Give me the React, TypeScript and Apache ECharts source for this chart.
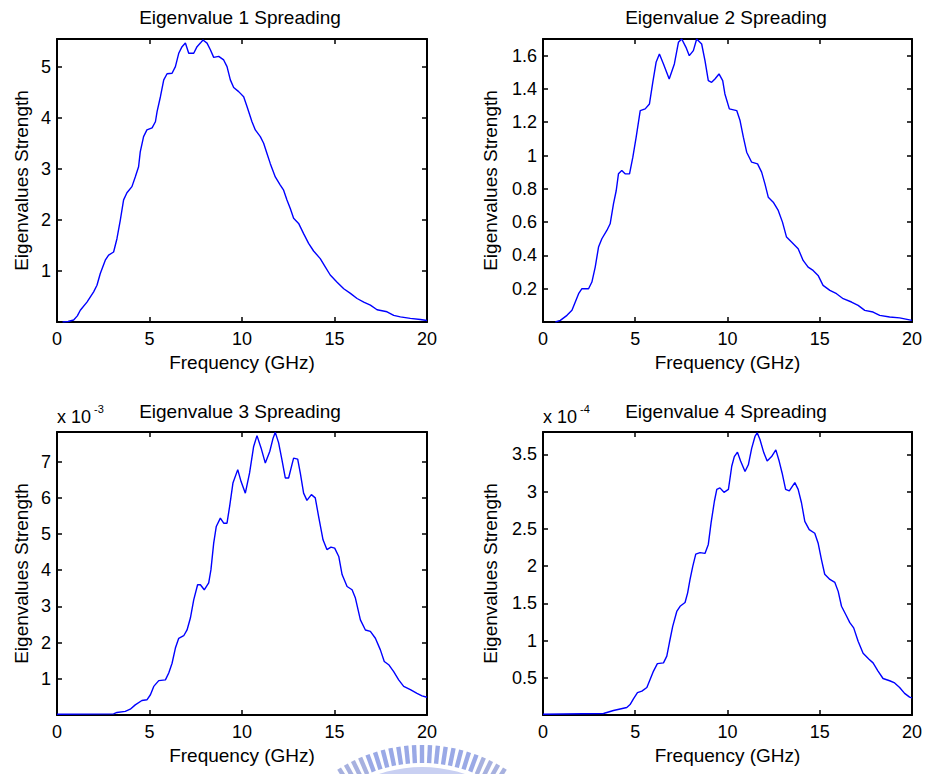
import React, { useEffect, useRef } from "react";
import * as echarts from "echarts";

// ---- Data (frequency in GHz, eigenvalue strength) ----
const freq1 = [0.3, 0.6, 0.9, 1.1, 1.26, 1.62, 1.98, 2.16, 2.34, 2.61, 2.79, 3.06, 3.24, 3.42, 3.6, 3.78, 4.05, 4.23, 4.41, 4.5, 4.68, 4.86, 5.14, 5.32, 5.41, 5.59, 5.77, 5.95, 6.22, 6.4, 6.58, 6.76, 6.94, 7.12, 7.39, 7.57, 7.75, 7.89, 8.11, 8.29, 8.47, 8.74, 9.01, 9.19, 9.37, 9.55, 9.82, 10.09, 10.27, 10.54, 10.72, 10.99, 11.17, 11.35, 11.53, 11.8, 12.07, 12.25, 12.43, 12.61, 12.79, 13.06, 13.33, 13.6, 13.87, 14.23, 14.5, 14.77, 15.14, 15.5, 15.86, 16.22, 16.58, 16.94, 17.3, 17.84, 18.2, 18.56, 19.1, 19.64, 20];
const eig1 = [0, 0.01, 0.04, 0.12, 0.23, 0.39, 0.59, 0.72, 0.95, 1.21, 1.31, 1.37, 1.63, 1.99, 2.39, 2.53, 2.65, 2.84, 3.04, 3.33, 3.63, 3.76, 3.8, 3.92, 4.12, 4.41, 4.74, 4.86, 4.87, 5.0, 5.26, 5.39, 5.46, 5.26, 5.26, 5.39, 5.46, 5.52, 5.46, 5.33, 5.18, 5.2, 5.13, 5.0, 4.74, 4.59, 4.51, 4.41, 4.22, 3.92, 3.76, 3.63, 3.5, 3.3, 3.1, 2.84, 2.68, 2.58, 2.39, 2.22, 2.03, 1.93, 1.73, 1.54, 1.39, 1.24, 1.08, 0.92, 0.78, 0.65, 0.56, 0.46, 0.39, 0.33, 0.24, 0.2, 0.13, 0.1, 0.07, 0.05, 0.03];

const freq2 = [0.67, 0.94, 1.3, 1.57, 1.75, 1.93, 2.11, 2.47, 2.65, 2.83, 3.01, 3.19, 3.46, 3.64, 3.82, 3.97, 4.09, 4.27, 4.45, 4.69, 4.87, 5.05, 5.27, 5.54, 5.77, 5.95, 6.13, 6.31, 6.53, 6.84, 7.12, 7.34, 7.52, 7.75, 7.93, 8.15, 8.33, 8.6, 8.78, 8.96, 9.14, 9.32, 9.54, 9.74, 9.86, 10.1, 10.5, 10.68, 10.86, 11.04, 11.31, 11.63, 11.85, 12.03, 12.21, 12.48, 12.75, 12.98, 13.2, 13.47, 13.83, 14.1, 14.37, 14.64, 14.91, 15.18, 15.55, 15.91, 16.27, 16.72, 17.08, 17.44, 17.89, 18.25, 18.79, 19.33, 20];
const eig2 = [0, 0.01, 0.04, 0.07, 0.12, 0.17, 0.2, 0.2, 0.24, 0.33, 0.45, 0.5, 0.55, 0.59, 0.71, 0.79, 0.89, 0.91, 0.89, 0.89, 0.99, 1.11, 1.27, 1.28, 1.31, 1.44, 1.56, 1.61, 1.55, 1.46, 1.55, 1.68, 1.7, 1.65, 1.6, 1.63, 1.7, 1.67, 1.57, 1.45, 1.44, 1.46, 1.49, 1.45, 1.37, 1.28, 1.27, 1.21, 1.11, 1.02, 0.96, 0.95, 0.9, 0.83, 0.75, 0.72, 0.67, 0.6, 0.51, 0.48, 0.44, 0.37, 0.33, 0.31, 0.28, 0.22, 0.19, 0.17, 0.14, 0.12, 0.1, 0.07, 0.06, 0.04, 0.03, 0.025, 0.01];

// eigenvalue 3 in units of 1e-3
const freq3 = [0, 3.06, 3.24, 3.69, 3.96, 4.23, 4.59, 4.86, 5.05, 5.23, 5.5, 5.86, 6.04, 6.22, 6.4, 6.58, 6.85, 7.03, 7.21, 7.39, 7.6, 7.75, 7.96, 8.2, 8.32, 8.47, 8.61, 8.83, 9.01, 9.19, 9.33, 9.51, 9.77, 9.95, 10.18, 10.41, 10.63, 10.81, 11.03, 11.26, 11.5, 11.68, 11.8, 11.98, 12.16, 12.34, 12.52, 12.7, 12.79, 13.01, 13.15, 13.33, 13.51, 13.75, 13.96, 14.14, 14.38, 14.59, 14.81, 15.01, 15.23, 15.41, 15.68, 15.95, 16.13, 16.4, 16.67, 16.94, 17.21, 17.48, 17.69, 17.93, 18.2, 18.47, 18.74, 19.1, 19.46, 19.73, 20];
const eig3 = [0.02, 0.03, 0.07, 0.1, 0.16, 0.28, 0.4, 0.42, 0.56, 0.79, 0.95, 0.97, 1.16, 1.43, 1.85, 2.12, 2.19, 2.35, 2.68, 3.18, 3.6, 3.6, 3.46, 3.65, 4.01, 4.75, 5.21, 5.44, 5.3, 5.3, 5.76, 6.41, 6.78, 6.45, 6.13, 6.69, 7.42, 7.72, 7.38, 6.96, 7.28, 7.65, 7.81, 7.52, 7.05, 6.55, 6.55, 6.92, 7.1, 7.07, 6.69, 6.13, 5.93, 6.09, 6.0, 5.49, 4.84, 4.57, 4.64, 4.61, 4.38, 3.88, 3.55, 3.46, 3.23, 2.63, 2.35, 2.31, 2.12, 1.8, 1.48, 1.39, 1.2, 0.97, 0.79, 0.7, 0.6, 0.53, 0.49];

// eigenvalue 4 in units of 1e-4
const freq4 = [0, 3.28, 3.55, 3.82, 4.18, 4.54, 4.72, 4.91, 5.12, 5.36, 5.63, 5.81, 5.99, 6.2, 6.53, 6.71, 6.85, 7.03, 7.25, 7.43, 7.7, 7.84, 7.97, 8.12, 8.28, 8.51, 8.78, 8.96, 9.11, 9.29, 9.42, 9.59, 9.81, 10.05, 10.23, 10.37, 10.54, 10.71, 10.95, 11.13, 11.31, 11.49, 11.61, 11.76, 11.97, 12.15, 12.39, 12.62, 12.8, 12.96, 13.15, 13.35, 13.65, 13.83, 14.01, 14.19, 14.43, 14.73, 14.91, 15.09, 15.27, 15.55, 15.82, 16.0, 16.18, 16.45, 16.63, 16.84, 17.08, 17.35, 17.67, 17.89, 18.16, 18.43, 18.79, 19.06, 19.33, 19.6, 19.87, 20];
const eig4 = [0.01, 0.02, 0.04, 0.06, 0.08, 0.1, 0.14, 0.22, 0.3, 0.32, 0.37, 0.48, 0.59, 0.69, 0.7, 0.79, 0.97, 1.19, 1.39, 1.46, 1.51, 1.64, 1.82, 2.0, 2.16, 2.18, 2.17, 2.29, 2.58, 2.87, 3.03, 3.05, 2.99, 3.03, 3.34, 3.47, 3.53, 3.41, 3.27, 3.36, 3.58, 3.74, 3.79, 3.7, 3.52, 3.41, 3.47, 3.56, 3.41, 3.25, 3.03, 3.01, 3.12, 3.03, 2.85, 2.6, 2.49, 2.44, 2.31, 2.09, 1.89, 1.82, 1.78, 1.66, 1.46, 1.33, 1.24, 1.17, 0.99, 0.83, 0.75, 0.7, 0.59, 0.49, 0.46, 0.43, 0.37, 0.29, 0.24, 0.23];

const titles = ["Eigenvalue 1 Spreading", "Eigenvalue 2 Spreading", "Eigenvalue 3 Spreading", "Eigenvalue 4 Spreading"];
const yMax = [5.54, 1.7, 7.82, 3.8];
const yStep = [1, 0.2, 1, 0.5];
const exponents = ["", "", "-3", "-4"];
const xLabel = "Frequency (GHz)";
const yLabel = "Eigenvalues Strength";

const FONT = "'Liberation Sans', Arial, Helvetica, sans-serif";

export default function App() {
  const ref = useRef<HTMLDivElement>(null);
  useEffect(() => {
    if (!ref.current) return;
    const chart = echarts.init(ref.current, null, { renderer: "svg" });

    const grids = [
      { left: 57, top: 39, width: 370, height: 283 },
      { left: 543, top: 39, width: 369, height: 283 },
      { left: 57, top: 432, width: 370, height: 283 },
      { left: 543, top: 432, width: 369, height: 283 },
    ];
    const yNameGap = [26, 43, 26, 43];
    const seriesData = [
      freq1.map((f, i) => [f, eig1[i]]),
      freq2.map((f, i) => [f, eig2[i]]),
      freq3.map((f, i) => [f, eig3[i]]),
      freq4.map((f, i) => [f, eig4[i]]),
    ];

    const lineStyle = { color: "#000", width: 2 };
    const tickStyle = { show: true, inside: true, length: 5, lineStyle: { color: "#000", width: 1.5 } };

    const xAxis: any[] = [];
    const yAxis: any[] = [];
    grids.forEach((_, gi) => {
      xAxis.push({
        type: "value", gridIndex: gi, min: 0, max: 20, interval: 5, position: "bottom",
        axisLine: { show: true, onZero: false, lineStyle },
        axisTick: tickStyle,
        axisLabel: { color: "#000", fontSize: 18, margin: 8, fontFamily: FONT },
        splitLine: { show: false },
        name: xLabel, nameLocation: "middle", nameGap: 31,
        nameTextStyle: { color: "#000", fontSize: 19, fontFamily: FONT },
      });
      xAxis.push({
        type: "value", gridIndex: gi, min: 0, max: 20, interval: 5, position: "top",
        axisLine: { show: true, onZero: false, lineStyle },
        axisTick: tickStyle, axisLabel: { show: false }, splitLine: { show: false },
      });
      yAxis.push({
        type: "value", gridIndex: gi, min: 0, max: yMax[gi], interval: yStep[gi], position: "left",
        axisLine: { show: true, onZero: false, lineStyle },
        axisTick: tickStyle,
        axisLabel: { color: "#000", fontSize: 18, margin: 6, fontFamily: FONT, showMinLabel: false, showMaxLabel: false },
        splitLine: { show: false },
        name: yLabel, nameLocation: "middle", nameGap: yNameGap[gi], nameRotate: 90,
        nameTextStyle: { color: "#000", fontSize: 19, fontFamily: FONT },
      });
      yAxis.push({
        type: "value", gridIndex: gi, min: 0, max: yMax[gi], interval: yStep[gi], position: "right",
        axisLine: { show: true, onZero: false, lineStyle },
        axisTick: tickStyle, axisLabel: { show: false }, splitLine: { show: false },
      });
    });

    const series = seriesData.map((d, gi) => ({
      type: "line", xAxisIndex: gi * 2, yAxisIndex: gi * 2, data: d,
      showSymbol: false, symbol: "none", smooth: false,
      lineStyle: { color: "#0000ff", width: 1.4 },
      z: 1,
    }));

    const titlePos = [[240, 17], [726, 17], [240, 411], [726, 411]];
    const graphic: any[] = [];
    titles.forEach((t, i) => {
      graphic.push({
        type: "text", x: titlePos[i][0], y: titlePos[i][1],
        style: { text: t, fontSize: 19, fontFamily: FONT, fill: "#000", align: "center", verticalAlign: "middle" },
      });
    });
    exponents.forEach((e, i) => {
      if (!e) return;
      const gx = grids[i].left;
      graphic.push({
        type: "text", x: gx, y: 417,
        style: { text: "x 10", fontSize: 18, fontFamily: FONT, fill: "#000", align: "left", verticalAlign: "middle" },
      });
      graphic.push({
        type: "text", x: gx + 37, y: 409,
        style: { text: e, fontSize: 11, fontFamily: FONT, fill: "#000", align: "left", verticalAlign: "middle" },
      });
    });

    // faded watermark logo (partial gear) at the bottom
    const cx = 422, cy = 902;
    graphic.push({
      type: "ring", shape: { cx, cy, r: 135, r0: 122 },
      style: { fill: "#c9d0f2" }, z: -1, silent: true,
    });
    for (let k = -11; k <= 11; k++) {
      const ang = (k * 2.9 * Math.PI) / 180;
      graphic.push({
        type: "rect", x: cx, y: cy, rotation: ang, silent: true, z: -1,
        shape: { x: -2.2, y: -157, width: 4.4, height: 18 },
        style: { fill: Math.abs(k) > 7 ? "#a7b1df" : "#9aa9e6" },
      });
    }

    chart.setOption({
      animation: false,
      backgroundColor: "#fff",
      grid: grids.map((g) => ({ ...g, containLabel: false })),
      xAxis, yAxis, series, graphic,
    });
    return () => chart.dispose();
  }, []);

  return <div ref={ref} style={{ position: "fixed", left: 0, top: 0, width: 925, height: 774 }} />;
}
